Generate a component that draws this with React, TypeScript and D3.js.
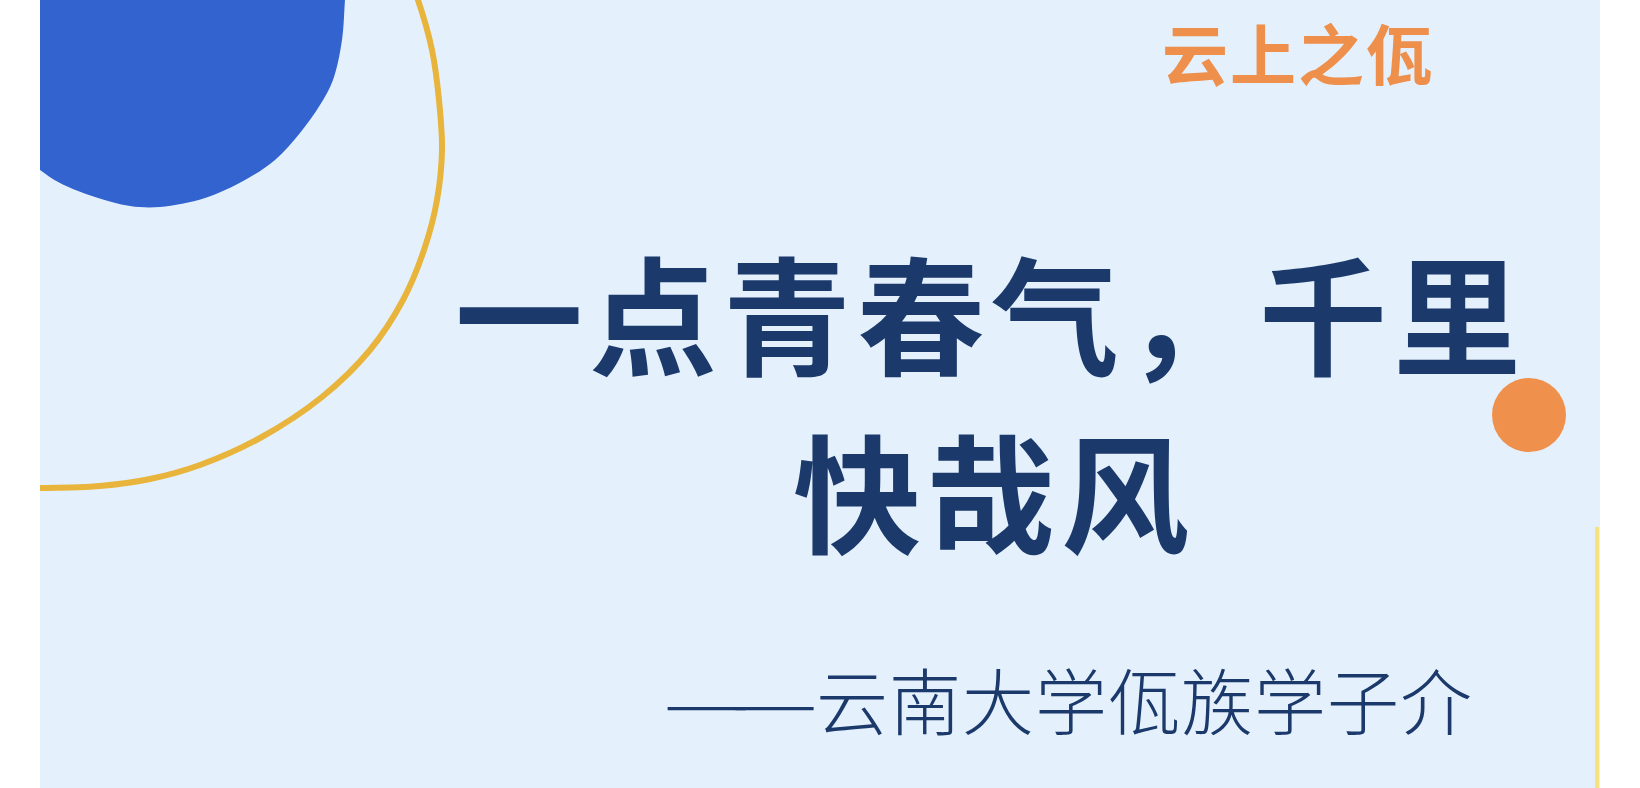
import React from "react";
import * as d3 from "d3";

const W = 1640;
const H = 788;

// texts
const topTitle = "云上之佤";
const titleLine1 = "一点青春气，千里";
const titleLine2 = "快哉风";
const subDash = "——";
const subTitle = "云南大学佤族学子介";

// decorative outlines (picture coordinates)
const blobEdge: [number, number][] = [
  [346, -10], [345, 0], [342, 40], [333, 80], [320, 105], [300, 133],
  [275, 160], [245, 180], [205, 198], [160, 207], [130, 206], [95, 197],
  [60, 183], [40, 170], [25, 158],
];
const ringCurve: [number, number][] = [
  [414, -10], [418, 0], [432, 50], [439, 100], [442, 150], [437, 200],
  [424, 250], [403, 300], [370, 350], [322, 397], [260, 438], [200, 465],
  [150, 479], [100, 486], [40, 488], [20, 488],
];

const panel = { x0: 40, x1: 1600 };
const navy = "#1b396b";
const orange = "#ee8f4b";
const font = "'Noto Sans CJK SC', 'Noto Sans', sans-serif";

// character centres from a linear scale over the glyph index
function charXs(text: string, firstCentre: number, advance: number) {
  const chars = Array.from(text);
  const x = d3.scaleLinear().domain([0, 1]).range([firstCentre, firstCentre + advance]);
  return chars.map((_, i) => x(i)).join(" ");
}

const App = () => {
  const edgeLine = d3.line().curve(d3.curveCatmullRom.alpha(0.5));
  const blobPath = edgeLine(blobEdge) + "L25,-10Z";
  const ringPath = edgeLine(ringCurve) as string;

  return (
    <div style={{ position: "fixed", left: 0, top: 0, width: W, height: H, background: "#fff" }}>
      <svg width={W} height={H} viewBox={`0 0 ${W} ${H}`}>
        <defs>
          <clipPath id="panelClip">
            <rect x={panel.x0} y={0} width={panel.x1 - panel.x0} height={H} />
          </clipPath>
        </defs>
        <rect x={panel.x0} y={0} width={panel.x1 - panel.x0} height={H} fill="#e4f1fc" />
        <g clipPath="url(#panelClip)">
          <path d={blobPath} fill="#3263cf" />
          <path d={ringPath} fill="none" stroke="#e8b43c" strokeWidth={6} />
          <circle cx={1529} cy={415} r={37} fill="#ef914d" />
        </g>
        <line x1={1597} x2={1597} y1={527} y2={H} stroke="#f6e27f" strokeWidth={4} />

        <text
          x={charXs(topTitle, 1195, 68)}
          y={80}
          textAnchor="middle"
          fontFamily={font}
          fontWeight={700}
          fontSize={66}
          fill={orange}
        >
          {topTitle}
        </text>
        <text
          x={charXs(titleLine1, 519, 134)}
          y={366}
          textAnchor="middle"
          fontFamily={font}
          fontWeight={700}
          fontSize={128}
          fill={navy}
        >
          {titleLine1}
        </text>
        <text
          x={charXs(titleLine2, 857, 134)}
          y={544}
          textAnchor="middle"
          fontFamily={font}
          fontWeight={700}
          fontSize={128}
          fill={navy}
        >
          {titleLine2}
        </text>
        {/* the two dashes joined into one long rule, stretched sideways */}
        <text
          transform="translate(670,729) scale(1.36,1)"
          x={charXs(subDash, 27, 50)}
          y={0}
          textAnchor="middle"
          fontFamily={font}
          fontWeight={300}
          fontSize={72}
          fill={navy}
        >
          {subDash}
        </text>
        <text
          x={charXs(subTitle, 852, 73)}
          y={729}
          textAnchor="middle"
          fontFamily={font}
          fontWeight={300}
          fontSize={72}
          fill={navy}
        >
          {subTitle}
        </text>
      </svg>
    </div>
  );
};

export default App;
